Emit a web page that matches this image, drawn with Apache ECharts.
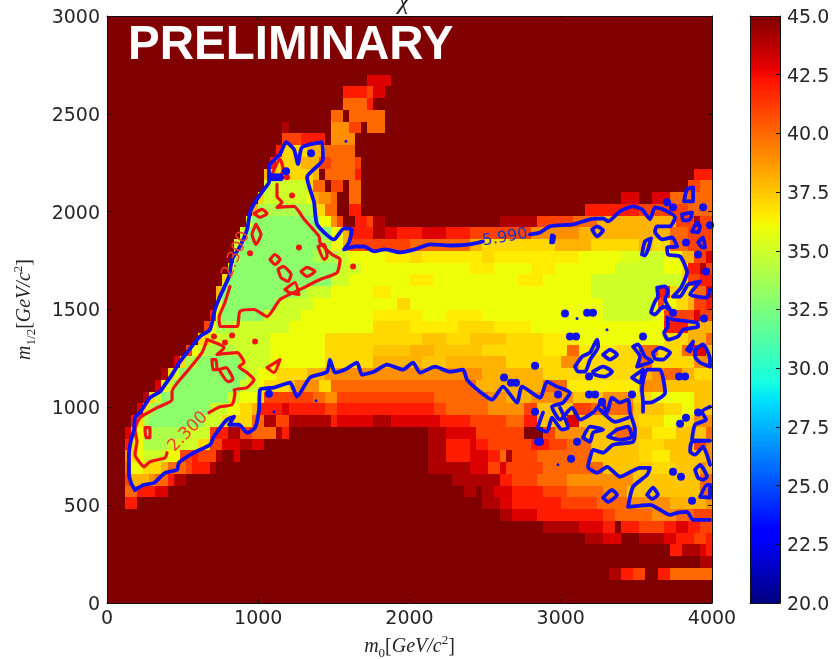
<!DOCTYPE html>
<html>
<head>
<meta charset="utf-8">
<style>html,body{margin:0;padding:0;background:#fff}#c{width:832px;height:659px}</style>
<script src="https://cdn.jsdelivr.net/npm/echarts@6/dist/echarts.min.js"></script>
</head>
<body>
<div id="c"></div>
<script>
// chi value: one list per m1/2 band (bottom band first),
// written as alternating [m0 bin, value] runs; each run lasts until the next bin.
const m0BinWidth = 40, m12BinHeight = 60;
const rowRuns = [
[0,45],
[0,45],
[0,45,83,44,85,42,87,41,89,45,91,42,93,40],
[0,45,98,44],
[0,45,93,42,95,44,98,43,99,42],
[0,45,79,44,82,43,85,45,88,44,92,43,94,42,97,41,99,42],
[0,45,72,44,78,43,82,42,84,45,85,42,88,41,92,42,94,43,96,42,98,41],
[0,45,65,44,67,43,71,42,82,41,84,40,90,39,94,40,97,41],
[0,45,3,42,5,45,62,44,65,43,67,42,75,41,81,40,86,39,93,38,99,39],
[0,45,3,40,5,42,8,43,10,45,59,44,61,45,62,44,64,43,67,42,72,41,76,40,82,39,86,37.5,98,40],
[0,45,3,41,4,38,7,39,8,40,10,42,11,44,13,45,57,44,65,42,67,41,71,40,76,39,87,37.5,98,40],
[0,45,3,40,4,36,6,37,9,38,10,40,13,41,14,42,17,44,18,45,53,44,60,43,63,41,65,43,66,41,72,40,82,37.5,90,37,94,37.5,98,39,99,38],
[0,45,3,39,4,37,5,36,6,35,10,36,12,41,14,42,15,41,18,44,19,45,21,43,22,45,53,44,56,42,60,43,63,42,65,40,66,44,67,41,71,40,80,37.5,88,37,90,36.5,93,37.5,99,39],
[0,45,3,42,4,37,5,36,6,34,10,35,15,37,17,41,19,43,22,44,24,43,26,45,53,44,56,42,60,43,61,42,63,41,70,42,73,41,76,40,80,37.5,88,37,92,37.5,97,41,99,39],
[0,45,3,43,4,38,5,36,6,34,13,35,17,41,18,42,20,44,22,41,24,40,28,44,29,42,30,45,53,44,56,43,61,41,69,45,72,41,74,39,79,37.5,84,40,87,37.5,90,36.5,94,37.5,99,40],
[0,45,4,42,5,37,6,34,7,33,16,35,19,37,24,40,26,44,28,41,30,44,37,42,38,43,44,44,47,43,55,42,60,41,66,40,69,42,71,37.5,76,43,78,37.5,88,37,92,36,95,37,97,39],
[0,45,5,43,6,37,7,34,8,33,17,35,20,36,22,37,24,38,25,42,29,43,30,42,36,41,38,42,54,41,56,40,63,39,69,41,71,37.5,77,41,80,40,87,37.5,92,37,95,36,97,37.5],
[0,45,6,44,7,37,8,35,9,33,20,35,22,36,25,37,26,41,34,40,36,39,38,41,54,40,63,39,66,38,70,39,77,37.5,82,39,87,37,90,36,97,37.5],
[0,45,8,43,9,36,10,35,11,33,22,35,25,36,26,37,30,38,31,39,35,37,37,40,60,40,61,38,72,40,76,36.5,88,39,92,37.5],
[0,45,9,44,10,37,11,35,12,33,23,35,25,36,28,37,33,38,36,39,62,38,72,37,88,38,90,39,92,40,95,38,97,37],
[0,45,11,43,12,37,13,34,15,33,22,35,27,36,36,37,44,38,52,37.5,56,38,66,37,75,39,78,37,88,40,90,37,97,39],
[0,45,13,41,14,36,15,35,16,34,21,35,27,36,36,37,44,37.5,50,38,54,37.5,62,37,72,36.5,76,40,78,36.5,84,37,88,40,91,37,95,40,97,43,99,38],
[0,45,15,37,17,35,27,36,36,37,52,37.5,56,37,60,37.5,66,37,72,36.5,78,36,92,37,96,38,99,40],
[0,45,16,41,17,36,18,34,21,35,30,36,44,37,50,36.5,58,37,64,36.5,70,36,92,42,96,38],
[0,45,17,42,18,36,19,33,26,35,32,36,44,36.5,52,36,56,36.5,62,36,75,36,82,35,90,36,92,41,97,43,98,41],
[0,45,18,36,19,33,28,35,34,36,48,37,50,36,82,35,90,36,91,41,92,36,94,37,96,38,97,41,99,42],
[0,45,18,38,19,33,31,34,33,35,37,36,44,36.5,47,36,80,35,91,42,93,37,97,40,99,43],
[0,45,19,37,20,33,37,35,40,36,50,36.5,54,36,68,36.5,72,36,80,35,95,37,96,41,98,42],
[0,45,20,36,21,33,38,35,42,36,60,36.5,64,36,70,36.5,74,36,84,35,92,36,95,37,96,42,98,44,99,41],
[0,45,21,34,22,33,34,34,38,35,40,36,46,36.5,50,37,52,36.5,62,37,64,36.5,78,36,85,35.5,88,35,92,36,95,38,97,41,99,43],
[0,45,21,35,22,33,35,34,37,36,39,38,40,41,50,40,60,38,62,37,74,38,80,37,88,38,90,37,93,40,96,41],
[0,45,22,35,23,33,37,36,39,38,40,42,44,44,46,43,48,42,52,43,56,42,60,41,70,39,78,38,93,40,96,41],
[0,45,23,36,24,33,35,36,37,39,38,41,39,45,41,42,43,41,44,44,46,45,65,44,71,41,77,40,81,38,94,41,97,44,98,41],
[0,45,24,38,25,34,34,37,36,40,38,45,40,42,42,45,79,42,88,41,96,40],
[0,45,25,37,26,35,33,36,34,38,35,39,37,40,38,45,40,40,42,45,85,43,88,45,90,43,93,40],
[0,45,26,35,33,37,34,40,36,45,37,41,39,45,40,40,42,45,96,41,98,40],
[0,45,26,38,27,37,34,38,35,45,36,40,41,42,42,45,97,42],
[0,45,27,42,28,37,32,38,35,41,37,40,41,41,42,45],
[0,45,28,42,29,37,33,38,36,40,41,45],
[0,45,29,41,32,42,36,45,37,39,41,45],
[0,45,29,44,30,45,37,39,40,45,40,41,42,45,43,40,46,45],
[0,45,37,40,39,45,40,40,43,45,43,40,46,45],
[0,45,39,40,43,42,44,45],
[0,45,39,42,43,41,44,43,46,45],
[0,45,43,43,47,45],
[0,45],[0,45],[0,45],[0,45],[0,45]
];

const blueContours = [
[185,578,159,614,145,665,145,758,159,834,179,886,185,947,218,973,284,1049,350,1080,384,1116,430,1167,483,1234,529,1280,615,1362,681,1398,714,1500,747,1566,807,1669,827,1756,879,1822,926,1909,946,1996,979,2048,1038,2114,1071,2150,1071,2232,1144,2293,1184,2355,1236,2319,1263,2242,1289,2329,1422,2355,1428,2268,1322,2176,1369,2048,1389,1935,1501,1858,1567,1915,1620,1909,1600,1843,1567,1807,1640,1822,1699,1822,1765,1797,1838,1807,1937,1792,2036,1807,2136,1833,2268,1827,2400,1833,2486,1848],
[2797,1884,2863,1894,2929,1925,3081,1935,3194,1961,3280,1966,3313,1950,3392,2002,3478,2027,3537,2012,3590,1961,3623,2022,3676,2012,3756,1971,3723,1925,3637,1925,3623,1899,3670,1858,3736,1868,3769,1822,3703,1817,3709,1781,3789,1771,3835,1689,3795,1612,3742,1566,3789,1566,3842,1628,3921,1643,3855,1577,3967,1561,3987,1602],
[185,578,245,604,311,614,384,665,463,681,476,717,575,768,681,809,707,850,793,937,840,952,807,911,873,911,926,870,979,896,1005,988,1012,1090,1104,1101,1210,1126,1256,1055,1342,1152,1455,1182,1474,1244,1508,1177,1574,1193,1653,1229,1686,1167,1765,1182,1851,1218,1957,1193,2023,1229,2070,1177,2169,1208,2268,1182,2354,1193,2380,1142,2466,1080,2546,1039,2618,1106,2711,1024,2744,1106,2863,1049,2909,1131,2975,1106,3061,1075,3015,1024,2942,1003,2995,937,3075,998,3127,937,3213,973,3273,1024,3306,973,3339,1049,3392,1024,3445,1039,3458,973,3491,886,3478,824,3346,809,3280,768,3213,783,3194,742,3180,696,3240,665,3306,696,3392,645,3524,691,3590,691,3571,655,3478,594,3445,491,3590,502,3723,450,3769,461,3835,466,3875,425,3987,425],
[3815,2053,3835,2114,3875,2124,3875,2053,3815,2053],
[3802,1986,3868,1996,3855,1961,3809,1955,3802,1986],
[3868,1899,3901,1945,3921,1925,3908,1894,3868,1899],
[3908,1843,3941,1868,3954,1817,3934,1817,3908,1843],
[3207,1909,3240,1925,3280,1904,3240,1874,3207,1909],
[2942,1879,2956,1874,2949,1843,2936,1843,2942,1879],
[3537,1781,3557,1848,3597,1863,3577,1807,3557,1776,3537,1781],
[3637,1612,3690,1618,3709,1592,3690,1551,3723,1500,3676,1515,3623,1474,3597,1485,3623,1541,3643,1566,3637,1612],
[3703,1459,3742,1449,3901,1433,3908,1413,3808,1397,3775,1362,3709,1346,3683,1382,3709,1413,3703,1459],
[3835,1295,3875,1336,3855,1285,3835,1295],
[3888,1295,3941,1321,3987,1244,3987,1208,3921,1229,3888,1259,3888,1295],
[3094,1208,3141,1259,3194,1280,3240,1346,3247,1310,3194,1244,3161,1182,3114,1182,3094,1208],
[3280,1269,3326,1295,3372,1269,3326,1244,3280,1269],
[3213,1182,3280,1208,3339,1182,3293,1157,3227,1167,3213,1182],
[3478,1310,3511,1321,3557,1259,3604,1234,3544,1218,3504,1208,3524,1259,3478,1310],
[3610,1280,3656,1305,3723,1280,3676,1244,3623,1249,3610,1280],
[3471,1152,3524,1182,3544,1193,3524,1126,3471,1152],
[3544,978,3544,1024,3537,1090,3571,1193,3656,1193,3690,1075,3590,1024,3544,1024],
[3987,1003,3934,978,3961,937,3888,911,3868,834,3987,829,3868,824,3855,773,3888,758,3941,799,3987,706],
[3888,681,3921,706,3967,645,3941,630,3908,640,3888,681],
[3921,543,3967,604,3987,604,3987,538,3921,543],
[3571,553,3610,589,3643,553,3604,532,3571,553],
[3280,538,3339,578,3372,553,3313,517,3280,538],
[3147,845,3194,901,3280,886,3213,870,3194,824,3147,845],
[3313,850,3372,886,3445,901,3471,850,3392,834,3313,850],
[3260,988,3359,926,3445,947],
[2883,973,2850,896,2909,875,2942,947,3008,886,3048,896,2995,998]
];
const blueDots = [1349,2298,1184,2206,1117,2176,1091,2176,1144,2176,3703,2048,3742,2022,3941,2022,3987,1930,3828,1843,3908,1781,3961,1694,3028,1479,3174,1484,3213,1484,3061,1362,3101,1362,3742,1484,3544,1362,3947,1454,3187,1157,2982,1065,3187,1065,3227,1065,3273,1029,3471,1065,3908,973,3789,916,3828,947,3108,824,3068,737,2863,824,3742,671,3795,645,3868,522,3782,1157,3822,1157,2830,1213,2625,1152,2671,1126,2704,1126,2830,978,2850,824,1071,1070];
const blueSpecks = [1104,978,1382,1034,1580,2360,3108,1454,3306,1397,2982,706];
const redContours = [
[1124,2140,1124,2078,1157,2048,1124,2022,1236,2027,1303,1961,1402,1874,1408,1843,1488,1781,1541,1756,1521,1689,1408,1653,1276,1602,1144,1551,1058,1464,972,1500,879,1490,860,1413,747,1413,741,1459,780,1536,813,1618],
[661,1346,774,1305,727,1270,860,1280,906,1229,873,1208,926,1177,972,1142,926,1101,840,1090,846,1075,827,1014,747,1003,674,973],
[397,768,384,742,284,722,245,696,218,717,185,758,198,824,185,886,218,947,331,998,430,1039,430,1080,529,1183,628,1280,661,1346],
[1091,2191,1144,2268,1164,2217,1131,2165,1091,2191],
[694,1244,721,1244,727,1193,701,1193,694,1244],
[741,1193,787,1203,833,1142,800,1131,741,1193],
[251,896,284,896,284,845,258,845,251,896],
[1058,1203,1144,1244,1104,1177,1058,1203],
[972,1991,1025,2012,1058,1991,1012,1971,972,1991],
[985,1935,1018,1884,985,1833,959,1884,985,1935],
[1078,1756,1111,1781,1144,1756,1111,1730,1078,1756],
[1131,1705,1164,1720,1217,1679,1197,1643,1150,1664,1131,1705],
[1283,1694,1322,1715,1375,1694,1322,1669,1283,1694],
[1395,1822,1435,1833,1455,1771,1435,1756,1395,1822],
[1177,1602,1243,1638,1269,1577,1203,1587,1177,1602]
];
const redDots = [780,1331,979,1336,827,1367,707,1362,1269,1817,946,1787,1223,2083,1190,2176,1627,1720];
const contourLabels = [
  {text:'5.990', at:[2632,1868], angle:10, color:'#1f35c8', size:16},
  {text:'2.300', at:[536,875], angle:46, color:'#f0402a', size:17},
  {text:'2.300', at:[853,1781], angle:68, color:'#f0402a', size:17}
];
const colorbarStep = 0.1, colorbarMin = 20, colorbarMax = 45;

// matplotlib "jet" palette sampled evenly
function jet(f){
  const seg=(p)=>{for(let i=1;i<p.length;i++){if(f<=p[i][0]){const t=(f-p[i-1][0])/(p[i][0]-p[i-1][0]||1);return p[i-1][1]+t*(p[i][1]-p[i-1][1]);}}return p[p.length-1][1];};
  const r=seg([[0,0],[.35,0],[.66,1],[.89,1],[1,.5]]),g=seg([[0,0],[.125,0],[.375,1],[.64,1],[.91,0],[1,0]]),b=seg([[0,.5],[.11,1],[.34,1],[.65,0],[1,0]]);
  return 'rgb('+Math.round(r*255)+','+Math.round(g*255)+','+Math.round(b*255)+')';
}
const palette=[];for(let i=0;i<=200;i++)palette.push(jet(i/200));

const cells=[];
rowRuns.forEach((runs,r)=>{
  for(let i=0;i<runs.length;i+=2){
    const end=i+2<runs.length?runs[i+2]:100;
    if(end>runs[i]) cells.push([runs[i]*m0BinWidth,end*m0BinWidth,r*m12BinHeight,(r+1)*m12BinHeight,runs[i+1]]);
  }
});
const barCells=[];
for(let v=colorbarMin;v<colorbarMax-1e-6;v+=colorbarStep) barCells.push([0,1,v,v+colorbarStep,v+colorbarStep/2]);

function pairs(a){const o=[];for(let i=0;i<a.length;i+=2)o.push([a[i],a[i+1]]);return o;}
function rectItem(params,api){
  const a=api.coord([api.value(0),api.value(3)]),b=api.coord([api.value(1),api.value(2)]);
  const x0=Math.round(a[0]),y0=Math.round(a[1]),x1=Math.round(b[0]),y1=Math.round(b[1]);
  return {type:'rect',shape:{x:x0,y:y0,width:x1-x0,height:y1-y0},style:{fill:api.visual('color'),stroke:null}};
}
const lineStyleOf=(c,w)=>({type:'line',xAxisIndex:0,yAxisIndex:0,symbol:'none',smooth:0.2,silent:true,z:5,lineStyle:{color:c,width:w,join:'round',cap:'round'},animation:false});
const series=[
 {type:'custom',name:'chi',xAxisIndex:0,yAxisIndex:0,renderItem:rectItem,data:cells,encode:{x:[0,1],y:[2,3]},progressive:0,silent:true,z:2,animation:false},
 {type:'custom',name:'bar',xAxisIndex:2,yAxisIndex:2,renderItem:rectItem,data:barCells,encode:{x:[0,1],y:[2,3]},progressive:0,silent:true,z:2,animation:false}
];
redContours.forEach(c=>series.push(Object.assign(lineStyleOf('#f01414',3.2),{data:pairs(c)})));
series.push({type:'scatter',xAxisIndex:0,yAxisIndex:0,symbolSize:6,silent:true,z:5,itemStyle:{color:'#f01414',opacity:1},data:pairs(redDots),animation:false});
blueContours.forEach(c=>series.push(Object.assign(lineStyleOf('#1010f0',3.8),{z:6,data:pairs(c)})));
series.push({type:'scatter',xAxisIndex:0,yAxisIndex:0,symbolSize:8,silent:true,z:6,itemStyle:{color:'#1010f0',opacity:1},data:pairs(blueDots),animation:false});
series.push({type:'scatter',xAxisIndex:0,yAxisIndex:0,symbolSize:3,silent:true,z:6,itemStyle:{color:'#1010f0',opacity:1},data:pairs(blueSpecks),animation:false});
contourLabels.forEach(l=>series.push({type:'scatter',xAxisIndex:0,yAxisIndex:0,symbolSize:1,silent:true,z:7,itemStyle:{color:'rgba(0,0,0,0)',opacity:1},animation:false,
  data:[l.at],label:{show:true,position:'inside',formatter:l.text,rotate:l.angle,color:l.color,fontSize:l.size,fontFamily:'DejaVu Sans'}}));

const tickFont={fontFamily:'DejaVu Sans',fontSize:19,color:'#262626'};
const frame={show:true,onZero:false,lineStyle:{color:'#111',width:1}};
const ticks={show:true,inside:true,length:4,lineStyle:{color:'#111',width:1}};
const plainNumber=v=>String(v);
const rich={
  i:{fontFamily:'Liberation Serif',fontStyle:'italic',fontSize:20,color:'#262626',lineHeight:26},
  n:{fontFamily:'Liberation Serif',fontSize:20,color:'#262626',lineHeight:26},
  s:{fontFamily:'Liberation Serif',fontSize:13,color:'#262626',verticalAlign:'bottom',lineHeight:26},
  u:{fontFamily:'Liberation Serif',fontSize:13,color:'#262626',verticalAlign:'top',lineHeight:26}
};
const option={
  animation:false,
  backgroundColor:'#fff',
  grid:[{left:107,top:16,width:605,height:587,outerBoundsMode:'none'},{left:750,top:16,width:30,height:587,outerBoundsMode:'none'}],
  xAxis:[
   {gridIndex:0,type:'value',min:0,max:4000,interval:1000,position:'bottom',z:10,axisLine:frame,axisTick:ticks,splitLine:{show:false},axisLabel:Object.assign({margin:7,showMinLabel:true,showMaxLabel:true,formatter:plainNumber},tickFont),
    name:'{i|m}{s|0}{n|[}{i|GeV/c}{u|2}{n|]}',nameLocation:'middle',nameGap:31,nameTextStyle:{rich}},
   {gridIndex:0,type:'value',min:0,max:4000,interval:1000,position:'top',z:10,axisLine:frame,axisTick:ticks,axisLabel:{show:false},splitLine:{show:false}},
   {gridIndex:1,type:'value',min:0,max:1,position:'bottom',z:10,axisLine:frame,axisTick:{show:false},axisLabel:{show:false},splitLine:{show:false}},
   {gridIndex:1,type:'value',min:0,max:1,position:'top',z:10,axisLine:frame,axisTick:{show:false},axisLabel:{show:false},splitLine:{show:false}}
  ],
  yAxis:[
   {gridIndex:0,type:'value',min:0,max:3000,interval:500,position:'left',z:10,axisLine:frame,axisTick:ticks,splitLine:{show:false},axisLabel:Object.assign({margin:7,verticalAlign:'top',lineHeight:4,showMinLabel:true,showMaxLabel:true,formatter:plainNumber},tickFont),
    name:'{i|m}{s|1/2}{n|[}{i|GeV/c}{u|2}{n|]}',nameLocation:'middle',nameGap:69,nameRotate:90,nameTextStyle:{rich}},
   {gridIndex:0,type:'value',min:0,max:3000,interval:500,position:'right',z:10,axisLine:frame,axisTick:ticks,axisLabel:{show:false},splitLine:{show:false}},
   {gridIndex:1,type:'value',min:colorbarMin,max:colorbarMax,interval:2.5,position:'right',z:10,axisLine:frame,axisTick:ticks,splitLine:{show:false},
    axisLabel:Object.assign({margin:7,verticalAlign:'top',lineHeight:4,showMinLabel:true,showMaxLabel:true,formatter:v=>v.toFixed(1)},tickFont)},
   {gridIndex:1,type:'value',min:colorbarMin,max:colorbarMax,position:'left',z:10,axisLine:frame,axisTick:{show:false},axisLabel:{show:false},splitLine:{show:false}}
  ],
  visualMap:[{show:false,type:'continuous',min:colorbarMin,max:colorbarMax,dimension:4,seriesIndex:[0,1],inRange:{color:palette}}],
  graphic:[
   {type:'text',x:128,y:22,z:20,style:{text:'PRELIMINARY',font:'bold 47.5px "Liberation Sans"',fill:'#fff'}},
   {type:'text',x:398,y:-11,z:20,style:{text:'χ',font:'italic 26px "Liberation Serif"',fill:'#262626'}}
  ],
  series
};
echarts.init(document.getElementById('c'),null,{renderer:'canvas'}).setOption(option);
</script>
</body>
</html>
